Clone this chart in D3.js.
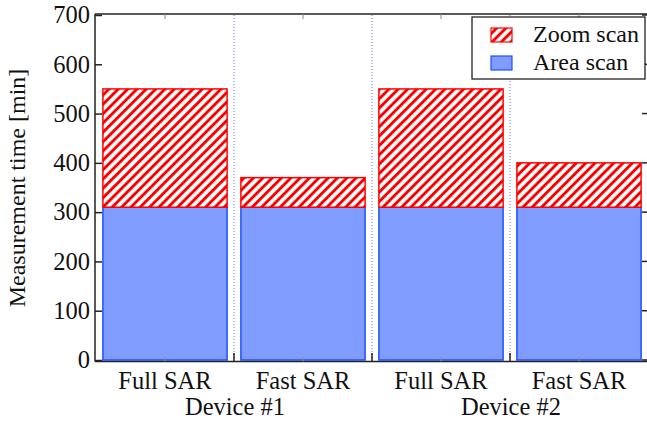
<!DOCTYPE html>
<html>
<head>
<meta charset="utf-8">
<script src="https://cdn.jsdelivr.net/npm/d3@7"></script>
<style>
  html, body { margin: 0; padding: 0; background: #fff; }
  svg { display: block; }
</style>
</head>
<body>
<svg id="chart" width="647" height="423"></svg>
<script>
const categories = ['Full SAR', 'Fast SAR', 'Full SAR', 'Fast SAR'];
const devices = ['Device #1', 'Device #2'];
const areaScan = [310, 310, 310, 310];
const zoomScan = [240, 60, 240, 90];
const yTicks = [0, 100, 200, 300, 400, 500, 600, 700];

const plotLeft = 95, plotTop = 15, plotRight = 648, plotBottom = 360;
const serif = '"Liberation Serif"';

const svg = d3.select('#chart');

const defs = svg.append('defs');
const hatch = defs.append('pattern')
  .attr('id', 'hatch')
  .attr('patternUnits', 'userSpaceOnUse')
  .attr('width', 6.6)
  .attr('height', 6.6)
  .attr('patternTransform', 'rotate(45)');
hatch.append('rect').attr('width', 6.6).attr('height', 6.6).attr('fill', '#fff');
hatch.append('rect').attr('x', 0).attr('width', 2.9).attr('height', 6.6).attr('fill', '#ff0000');

const x = d3.scaleBand()
  .domain(d3.range(categories.length))
  .range([plotLeft + 1, plotRight])
  .paddingInner(0.1)
  .paddingOuter(0.05);

const y = d3.scaleLinear().domain([0, 700]).range([plotBottom, plotTop]);

// dotted separators between bars
const seps = d3.range(1, categories.length).map(i => x(i) - x.step() * x.paddingInner() / 2);
svg.append('g')
  .selectAll('line')
  .data(seps)
  .join('line')
  .attr('x1', d => d).attr('x2', d => d)
  .attr('y1', plotTop).attr('y2', plotBottom)
  .attr('stroke', '#6070ff')
  .attr('stroke-width', 1)
  .attr('stroke-dasharray', '1,2');

// area scan bars
svg.append('g')
  .selectAll('rect')
  .data(areaScan)
  .join('rect')
  .attr('x', (d, i) => x(i))
  .attr('y', d => y(d))
  .attr('width', x.bandwidth())
  .attr('height', d => y(0) - y(d))
  .attr('fill', '#809cff')
  .attr('stroke', '#1f50ff')
  .attr('stroke-width', 1.5);

// zoom scan bars stacked on top
svg.append('g')
  .selectAll('rect')
  .data(zoomScan)
  .join('rect')
  .attr('x', (d, i) => x(i))
  .attr('y', (d, i) => y(areaScan[i] + d))
  .attr('width', x.bandwidth())
  .attr('height', (d, i) => y(areaScan[i]) - y(areaScan[i] + d))
  .attr('fill', 'url(#hatch)')
  .attr('stroke', '#ff0000')
  .attr('stroke-width', 1.5);

// frame
const frame = svg.append('g').attr('stroke', '#222').attr('stroke-width', 1.5).attr('fill', 'none');
frame.append('line').attr('x1', plotLeft).attr('x2', plotLeft).attr('y1', plotTop - 1).attr('y2', plotBottom + 1.5);
frame.append('line').attr('x1', plotLeft).attr('x2', plotRight).attr('y1', plotTop - 1).attr('y2', plotTop - 1);
frame.append('line').attr('x1', plotLeft).attr('x2', plotRight).attr('y1', plotBottom + 1.5).attr('y2', plotBottom + 1.5);

// left axis, ticks inward
const yAxis = d3.axisLeft(y).tickValues(yTicks).tickSizeInner(-7).tickSizeOuter(0).tickPadding(5);
const gy = svg.append('g').attr('transform', `translate(${plotLeft},0)`).call(yAxis);
gy.attr('font-family', null).attr('font-size', null);
gy.select('.domain').remove();
gy.selectAll('line').attr('stroke', '#222').attr('stroke-width', 1.5);
gy.selectAll('text').style('font-size', '24.5px');

// right axis ticks
svg.append('g')
  .selectAll('line')
  .data(yTicks)
  .join('line')
  .attr('x1', plotRight - 6).attr('x2', plotRight)
  .attr('y1', d => y(d)).attr('y2', d => y(d))
  .attr('stroke', '#222').attr('stroke-width', 1.5);

// top/bottom ticks at bar centres
const centres = categories.map((c, i) => x(i) + x.bandwidth() / 2);
svg.append('g')
  .selectAll('line')
  .data(centres)
  .join('line')
  .attr('x1', d => d).attr('x2', d => d)
  .attr('y1', plotTop - 1).attr('y2', plotTop + 4)
  .attr('stroke', '#888').attr('stroke-width', 1);
svg.append('g')
  .selectAll('line')
  .data(centres)
  .join('line')
  .attr('x1', d => d).attr('x2', d => d)
  .attr('y1', plotBottom + 1.5).attr('y2', plotBottom - 3)
  .attr('stroke', '#888').attr('stroke-width', 1);
svg.append('g')
  .selectAll('line')
  .data(seps)
  .join('line')
  .attr('x1', d => d).attr('x2', d => d)
  .attr('y1', plotBottom + 1.5).attr('y2', plotBottom - 7)
  .attr('stroke', '#222').attr('stroke-width', 1.5);

// category labels
svg.append('g')
  .selectAll('text')
  .data(categories)
  .join('text')
  .attr('x', (d, i) => centres[i])
  .attr('y', 389)
  .attr('text-anchor', 'middle')
  .style('font-size', '24.5px')
  .text(d => d);

// device labels, centred between pairs
svg.append('g')
  .selectAll('text')
  .data(devices)
  .join('text')
  .attr('x', (d, i) => seps[i * 2] + 1)
  .attr('y', 415)
  .attr('text-anchor', 'middle')
  .style('font-size', '24.5px')
  .text(d => d);

// y label
svg.append('text')
  .attr('transform', `translate(25,188) rotate(-90)`)
  .attr('text-anchor', 'middle')
  .style('font-size', '24px')
  .text('Measurement time [min]');

// legend
const legend = svg.append('g');
legend.append('rect')
  .attr('x', 472).attr('y', 17)
  .attr('width', 173).attr('height', 62)
  .attr('fill', '#fff').attr('stroke', '#111').attr('stroke-width', 1.2);
const legendItems = [
  { label: 'Zoom scan', fill: 'url(#hatch)', stroke: '#ff0000' },
  { label: 'Area scan', fill: '#809cff', stroke: '#1f50ff' }
];
const li = legend.selectAll('g.item')
  .data(legendItems)
  .join('g')
  .attr('class', 'item')
  .attr('transform', (d, i) => `translate(0,${i * 28})`);
li.append('rect')
  .attr('x', 491).attr('y', 28)
  .attr('width', 21).attr('height', 14)
  .attr('fill', d => d.fill)
  .attr('stroke', d => d.stroke)
  .attr('stroke-width', 1.2);
li.append('text')
  .attr('x', 533).attr('y', 42)
  .style('font-size', '24px')
  .text(d => d.label);

svg.selectAll('text').style('font-family', serif).style('fill', '#111');
</script>
</body>
</html>
